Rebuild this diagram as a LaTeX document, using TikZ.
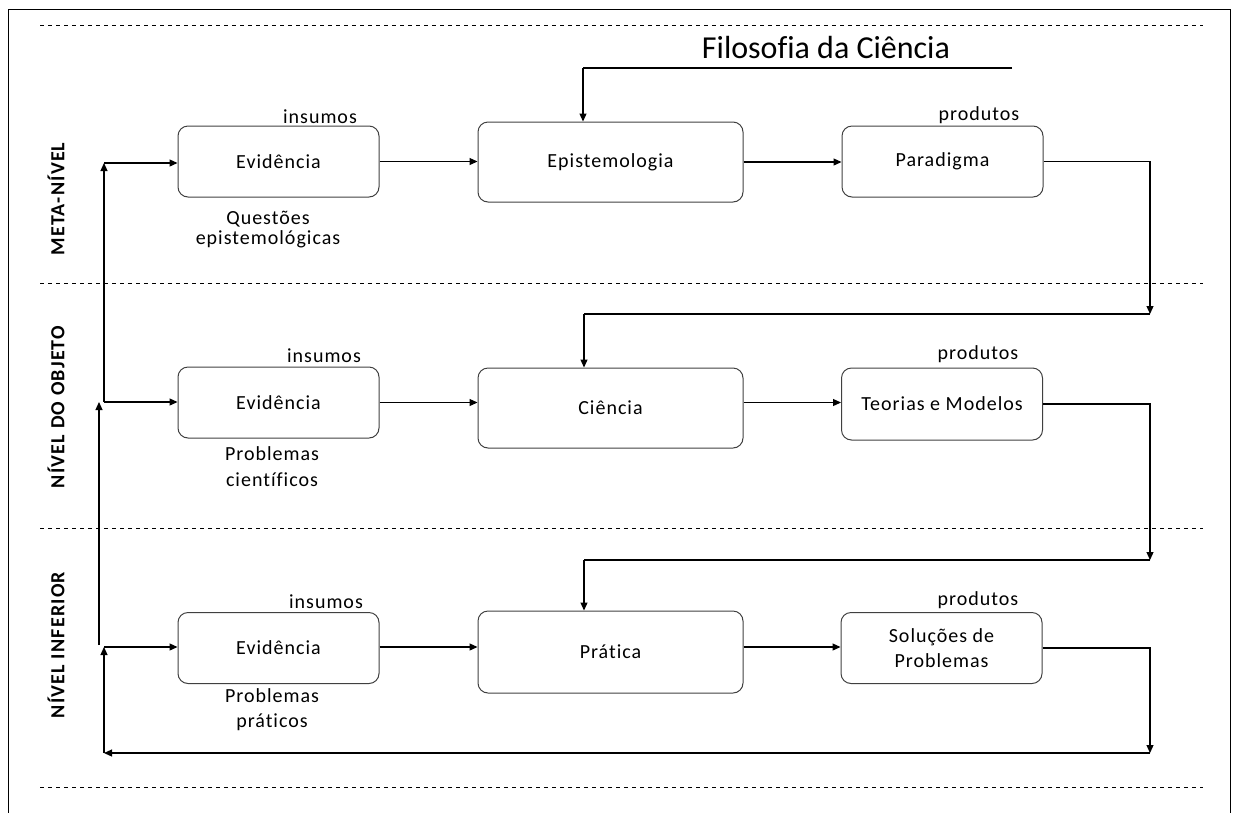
\documentclass[tikz,border=0pt]{standalone}
\usepackage{fontspec}
\setmainfont{Carlito}[LetterSpace=5, Ligatures=CommonOff]
\newfontfamily\titlefont{Carlito}[Ligatures=CommonOff]
\newfontfamily\sidefont{Carlito}[LetterSpace=6, Ligatures=CommonOff]
\usetikzlibrary{arrows.meta}
\begin{document}
\begin{tikzpicture}[x=1pt,y=-1pt,
  box/.style={draw=black!75, line width=1pt, rounded corners=10pt,
    font=\fontsize{20}{25}\selectfont, align=center, inner sep=0pt},
  evbox/.style={box, minimum width=201pt, minimum height=71pt},
  midbox/.style={box, minimum width=265pt, minimum height=80pt},
  ln/.style={line width=1.2pt},
  arr/.style={line width=1.2pt, -{Triangle[length=8pt,width=7pt]}},
  lab/.style={font=\fontsize{20}{20}\selectfont, inner sep=0pt, align=center},
  side/.style={font=\sidefont\bfseries\fontsize{20}{22}\selectfont, rotate=90, inner sep=0pt},
  sep/.style={dash pattern=on 4pt off 4pt, line width=0.9pt}
]
\useasboundingbox (0,0) rectangle (1234,812);
% frame (bottom edge lies past the page)
\draw[line width=1pt] (8,830) -- (8,9) -- (1230,9) -- (1230,830);
% level separators
\foreach \yy in {25,283,528,787} \draw[sep] (40,\yy) -- (1203,\yy);

% level names
\node[side] (lv1) at (56,199) {META-NÍVEL};
\node[side] (lv2) at (56,407) {NÍVEL DO OBJETO};
\node[side] (lv3) at (56,645) {NÍVEL INFERIOR};

% boxes
\node[evbox] (ev1) at (278.5,161.5) {Evidência};
\node[midbox] (ep) at (610.5,162) {Epistemologia};
\node[evbox] (par) at (942.5,161.5) {Paradigma};
\node[evbox] (ev2) at (278.5,402.5) {Evidência};
\node[midbox] (ci) at (610.5,408) {Ciência};
\node[evbox, minimum height=72pt] (teo) at (942,404) {Teorias e Modelos};
\node[evbox] (ev3) at (278.5,648) {Evidência};
\node[midbox, minimum height=82pt] (pr) at (610.5,652) {Prática};
\node[evbox] (sol) at (941.5,648) {Soluções de\\Problemas};

% labels
\node[lab] (in1) at (320,117) {insumos};
\node[lab] (in2) at (324,356) {insumos};
\node[lab] (in3) at (326,602) {insumos};
\node[lab] (pd1) at (979,115) {produtos};
\node[lab] (pd2) at (978,354) {produtos};
\node[lab] (pd3) at (978,600) {produtos};
\node[lab] (q1) at (268,230) {Questões\\epistemológicas};
\node[lab, font=\fontsize{20}{26}\selectfont] (q2) at (272,467) {Problemas\\científicos};
\node[lab, font=\fontsize{20}{25}\selectfont] (q3) at (272,710) {Problemas\\práticos};

% title
\node[font=\titlefont\fontsize{32}{36}\selectfont, anchor=base, inner sep=0pt] (fc) at (826,58) {Filosofia da Ciência};

% routing points
\coordinate (t1) at (1012,68);
\coordinate (t0) at (583,68);
\coordinate (c1) at (1150,314);
\coordinate (k1) at (584,314);
\coordinate (c2) at (1150,560);
\coordinate (k2) at (584,560);
\coordinate (c3) at (1150,753);
\coordinate (b3) at (104,753);
\coordinate (L3) at (104,647);
\coordinate (m3) at (99,645);
\coordinate (m2) at (99,402);
\coordinate (L2) at (104,402);
\coordinate (L1) at (104,163);

% top level
\draw[ln] (t1) -- (t0);
\draw[arr] (t0) -- (t0 |- ep.north);
\draw[arr] (ev1.east) -- (ev1.east -| ep.west);
\draw[arr] (ep.east) -- (ep.east -| par.west);
\draw[arr] (par.east) -| (c1);
\draw[ln] (c1) -- (k1);
\draw[arr] (k1) -- (k1 |- ci.north);

% object level
\draw[arr] (ev2.east) -- (ev2.east -| ci.west);
\draw[arr] (ev2.east -| ci.east) -- (ev2.east -| teo.west);
\draw[arr] (teo.east) -| (c2);
\draw[ln] (c2) -- (k2);
\draw[arr] (k2) -- (k2 |- pr.north);

% lower level
\draw[arr] (L3) -- (ev3.west |- L3);
\draw[arr] (L3 -| pr.east) -- (L3 -| sol.west);
\draw[arr] (L3 -| ev3.east) -- (L3 -| pr.west);
\draw[arr] (sol.east) -| (c3);
\draw[arr] (c3) -- (b3);
\draw[arr] (b3) -- (L3);

% feedback upwards
\draw[arr] (m3) -- (m2);
\draw[arr] (L2) -- (ev2.west |- L2);
\draw[arr] (L2) -- (L1);
\draw[arr] (L1) -- (ev1.west |- L1);
\end{tikzpicture}
\end{document}
